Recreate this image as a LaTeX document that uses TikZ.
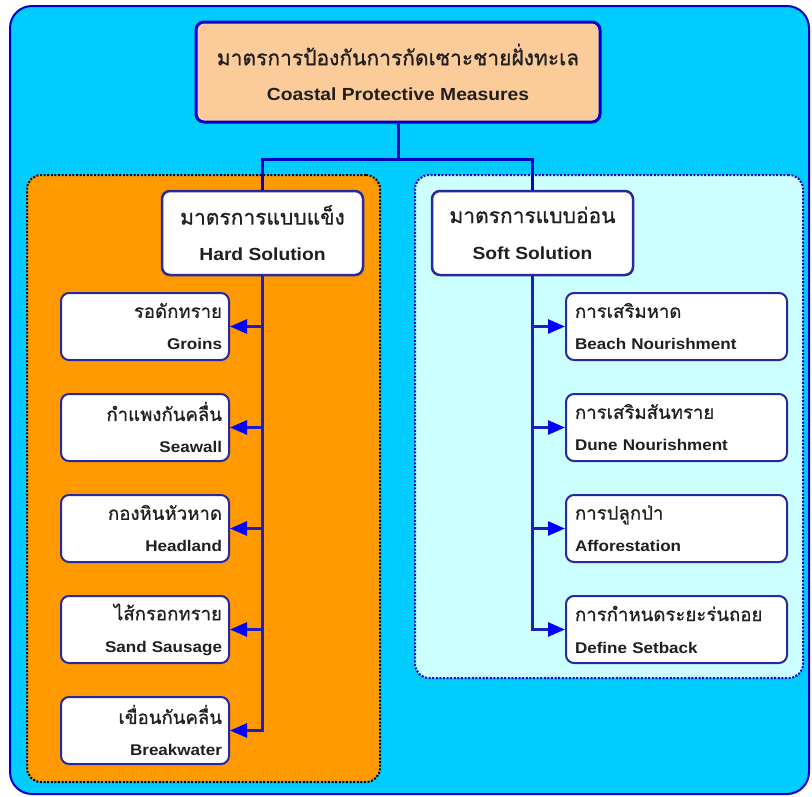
\documentclass[tikz,border=0pt]{standalone}
\usepackage{fontspec}
\setmainfont{Liberation Sans}[FakeStretch=1.1]
\newfontfamily\thaifont{Loma}[Script=Thai, Scale=1.2, FakeBold=0.8]
\usetikzlibrary{arrows.meta, positioning}
\definecolor{skyback}{RGB}{0,204,255}
\definecolor{framedark}{RGB}{0,0,204}
\definecolor{peach}{RGB}{251,203,154}
\definecolor{hardorange}{RGB}{255,153,0}
\definecolor{softcyan}{RGB}{204,255,255}
\definecolor{boxline}{RGB}{40,40,160}
\definecolor{linkblue}{RGB}{30,30,190}
\definecolor{headblue}{RGB}{0,0,255}
\newcommand{\pair}[2]{{\thaifont #1}\\{\bfseries #2}}

\begin{document}
\begin{tikzpicture}[
    x=1pt, y=-1pt,
    panel/.style={rectangle, rounded corners=14pt, line width=2pt, dash pattern=on 2pt off 1.6pt, inner sep=0pt},
    box/.style={rectangle, draw=boxline, fill=white, rounded corners=8pt, line width=2pt, inner sep=0pt, text=black!88},
    leftitem/.style={box, minimum width=168pt, minimum height=67pt, text width=154pt, align=right, font=\fontsize{15.5}{32}\selectfont},
    rightitem/.style={box, minimum width=221pt, minimum height=67pt, text width=203pt, align=left, font=\fontsize{15.5}{32}\selectfont},
    kind/.style={box, line width=2.5pt, minimum width=201pt, minimum height=84pt, align=center, font=\fontsize{17.5}{36}\selectfont},
    arr/.style={draw=linkblue, line width=2.6pt, -{Triangle[length=17pt, width=14pt, color=headblue, fill=headblue]}},
    link/.style={draw=framedark, line width=3pt}
]
    \useasboundingbox (0,0) rectangle (812,796);
    \node[rectangle, draw=framedark, fill=skyback, line width=2pt, rounded corners=22pt, minimum width=799pt, minimum height=788pt] (bg) at (409.5,400) {};

    \node[panel, draw=black, fill=hardorange, minimum width=353pt, minimum height=607pt] (hardpanel) at (203.5,478.5) {};
    \node[panel, draw=framedark, fill=softcyan, minimum width=388pt, minimum height=503pt] (softpanel) at (609,426.5) {};

    \node[box, draw=framedark, fill=peach, line width=3pt, minimum width=404pt, minimum height=100pt, align=center, font=\fontsize{17.5}{35}\selectfont] (top) at (398,72) {\pair{มาตรการป้องกันการกัดเซาะชายฝั่งทะเล}{Coastal Protective Measures}};

    \node[kind] (hard) at (262.5,233) {\pair{มาตรการแบบแข็ง}{Hard Solution}};
    \node[kind] (soft) at (532.5,233) {\pair{มาตรการแบบอ่อน}{Soft Solution}};
    \draw[link] (top.south) -- ++(0,36) -| (hard.north);
    \draw[link] (top.south) -- ++(0,36) -| (soft.north);

    % hard measures
    \node[leftitem] (groins) at (145,326.5) {\pair{รอดักทราย}{Groins}};
    \node[leftitem] (seawall) at (145,427.5) {\pair{กำแพงกันคลื่น}{Seawall}};
    \node[leftitem] (headland) at (145,528.5) {\pair{กองหินหัวหาด}{Headland}};
    \node[leftitem] (sausage) at (145,629.5) {\pair{ไส้กรอกทราย}{Sand Sausage}};
    \node[leftitem] (breakwater) at (145,730.5) {\pair{เขื่อนกันคลื่น}{Breakwater}};
    \foreach \n in {groins, seawall, headland, sausage, breakwater}
        \draw[arr] (hard.south) |- (\n.east);

    % soft measures
    \node[rightitem] (beach) at (676.5,326.5) {\pair{การเสริมหาด}{Beach Nourishment}};
    \node[rightitem] (dune) at (676.5,427.5) {\pair{การเสริมสันทราย}{Dune Nourishment}};
    \node[rightitem] (forest) at (676.5,528.5) {\pair{การปลูกป่า}{Afforestation}};
    \node[rightitem] (setback) at (676.5,629.5) {\pair{การกำหนดระยะร่นถอย}{Define Setback}};
    \foreach \n in {beach, dune, forest, setback}
        \draw[arr] (soft.south) |- (\n.west);
\end{tikzpicture}
\end{document}
